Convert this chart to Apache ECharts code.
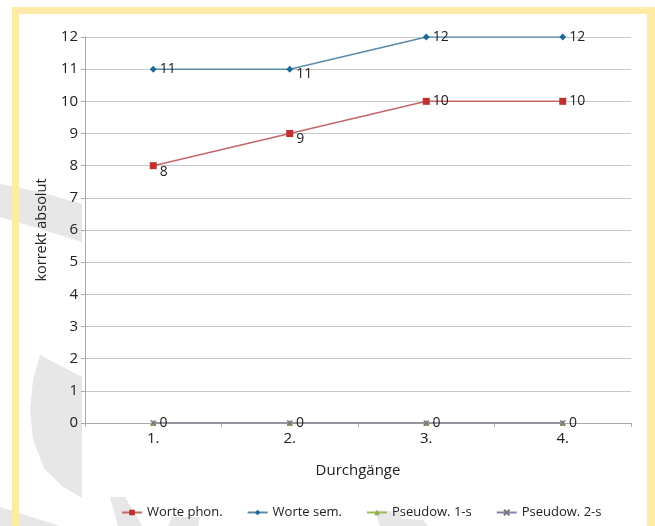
<!DOCTYPE html>
<html>
<head>
<meta charset="utf-8">
<script src="https://cdn.jsdelivr.net/npm/echarts@6/dist/echarts.min.js"></script>
<style>
html,body{margin:0;padding:0;background:#fff;}
#c{width:655px;height:526px;}
</style>
</head>
<body>
<div id="c"></div>
<script>
var categories = ['1.', '2.', '3.', '4.'];
var wortePhon = [8, 9, 10, 10];
var worteSem = [11, 11, 12, 12];
var pseudow1 = [0, 0, 0, 0];
var pseudow2 = [0, 0, 0, 0];
var yTicks = [0, 1, 2, 3, 4, 5, 6, 7, 8, 9, 10, 11, 12];

var FONT = 'Open Sans';
var chart = echarts.init(document.getElementById('c'), null, {renderer: 'canvas'});

function lbl(show) {
  return {
    show: show,
    position: 'right',
    distance: 3,
    color: '#222',
    fontFamily: FONT,
    fontSize: 14
  };
}
function withOffsets(values, offsets) {
  return values.map(function (v, i) {
    var o = offsets[i];
    return o ? {value: v, label: {offset: o}} : v;
  });
}

var grey = '#e7e7e7';
var yellow = '#FFEBA6';

var option = {
  backgroundColor: '#fff',
  animation: false,
  textStyle: {fontFamily: FONT},
  graphic: [
    {type: 'polygon', z: -10, silent: true, shape: {points: [[0,184],[40,192],[82,204],[82,242],[40,229],[0,217]]}, style: {fill: grey}},
    {type: 'polygon', z: -10, silent: true, shape: {points: [[40,355],[82,377],[82,498],[62,486],[44,468],[33,440],[30,410],[33,380]]}, style: {fill: grey}},
    {type: 'polygon', z: -10, silent: true, shape: {points: [[0,507],[60,526],[0,526]]}, style: {fill: grey}},
    {type: 'polygon', z: -10, silent: true, shape: {points: [[110,497],[125,497],[142,526],[118,526]]}, style: {fill: grey}},
    {type: 'polygon', z: -10, silent: true, shape: {points: [[172,517],[200,517],[198,526],[168,526]]}, style: {fill: grey}},
    {type: 'polygon', z: -10, silent: true, shape: {points: [[375,510],[400,512],[403,526],[380,526]]}, style: {fill: grey}},
    {type: 'polygon', z: -10, silent: true, shape: {points: [[380,517],[423,520],[428,526],[380,526]]}, style: {fill: grey}},
    {type: 'rect', z: -5, silent: true, shape: {x: 12, y: 7, width: 643, height: 7}, style: {fill: yellow}},
    {type: 'rect', z: -5, silent: true, shape: {x: 12, y: 7, width: 7, height: 519}, style: {fill: yellow}},
    {type: 'rect', z: -5, silent: true, shape: {x: 647, y: 7, width: 8, height: 519}, style: {fill: yellow}}
  ],
  grid: {left: 85, right: 24, top: 37, bottom: 103, containLabel: false, show: true, backgroundColor: '#fff', borderWidth: 0},
  legend: {
    bottom: 2,
    left: 116,
    itemGap: 24,
    itemWidth: 20,
    itemHeight: 7,
    textStyle: {fontFamily: FONT, fontSize: 13, color: '#222'},
    data: ['Worte phon.', 'Worte sem.', 'Pseudow. 1-s', 'Pseudow. 2-s']
  },
  xAxis: {
    type: 'category',
    data: categories,
    boundaryGap: true,
    name: 'Durchgänge',
    nameLocation: 'middle',
    nameGap: 40,
    nameTextStyle: {fontFamily: FONT, fontSize: 15, color: '#222'},
    axisLine: {show: true, lineStyle: {color: '#aaa', width: 1}},
    axisTick: {show: true, length: 4, lineStyle: {color: '#aaa'}},
    axisLabel: {fontFamily: FONT, fontSize: 15, color: '#222', margin: 8},
    splitLine: {show: false}
  },
  yAxis: {
    type: 'value',
    min: 0,
    max: 12,
    interval: 1,
    name: 'korrekt absolut',
    nameLocation: 'middle',
    nameGap: 36,
    nameRotate: 90,
    nameTextStyle: {fontFamily: FONT, fontSize: 14.5, color: '#222'},
    axisLine: {show: true, lineStyle: {color: '#aaa', width: 1}},
    axisTick: {show: true, length: 4, lineStyle: {color: '#aaa'}},
    axisLabel: {fontFamily: FONT, fontSize: 15, color: '#222', margin: 7,
      formatter: function (v) { return yTicks.indexOf(v) >= 0 ? String(v) : ''; }},
    splitLine: {show: true, lineStyle: {color: '#c8c8c8', width: 1}}
  },
  series: [
    {
      name: 'Worte phon.', type: 'line',
      data: withOffsets(wortePhon, [[0, 6], [0, 6], null, null]),
      symbol: 'rect', symbolSize: 7,
      itemStyle: {color: '#c0302e'},
      lineStyle: {color: '#c4676a', width: 1.5},
      label: lbl(true)
    },
    {
      name: 'Worte sem.', type: 'line',
      data: withOffsets(worteSem, [null, [0, 5], null, null]),
      symbol: 'diamond', symbolSize: 7,
      itemStyle: {color: '#1b6a99'},
      lineStyle: {color: '#5b8bab', width: 1.5},
      label: lbl(true)
    },
    {
      name: 'Pseudow. 1-s', type: 'line',
      data: pseudow1,
      symbol: 'triangle', symbolSize: 6,
      itemStyle: {color: '#8db254'},
      lineStyle: {color: '#9bbb59', width: 1.5},
      label: lbl(false)
    },
    {
      name: 'Pseudow. 2-s', type: 'line',
      data: pseudow2,
      symbol: 'path://M0,0 L1,1 M1,0 L0,1', symbolSize: 5,
      itemStyle: {color: '#777', borderColor: '#777', borderWidth: 1.5},
      lineStyle: {color: '#8a80ad', width: 1.5},
      label: lbl(true)
    }
  ]
};
chart.setOption(option);
</script>
</body>
</html>
